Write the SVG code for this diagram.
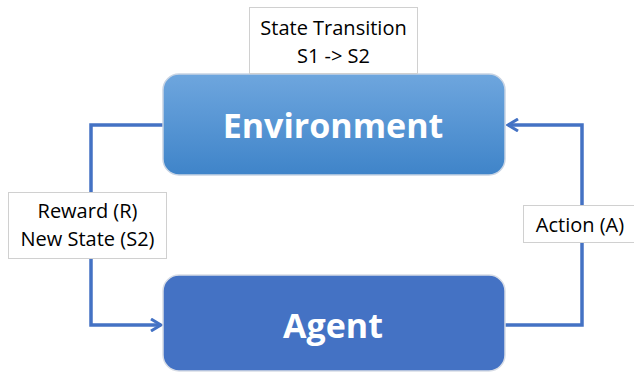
<svg xmlns="http://www.w3.org/2000/svg" width="634" height="373" viewBox="0 0 634 373">
<style>
.lbl{fill:#fff;stroke:#d0d0d0;stroke-width:1}
.lt{font-family:"Open Sans","Liberation Sans",sans-serif;font-size:20px;fill:#000;text-anchor:middle}
.nt{font-family:"Open Sans","Liberation Sans",sans-serif;font-weight:bold;fill:#fff;text-anchor:middle}
.conn{fill:none;stroke:#4472C4;stroke-width:3.5}
</style>
<defs>
<linearGradient id="envg" x1="0" y1="0" x2="0" y2="1">
<stop offset="0" stop-color="#6EA6DE"/>
<stop offset="1" stop-color="#3F84C9"/>
</linearGradient>
<marker id="arr" viewBox="0 0 14 14" refX="12" refY="7" markerWidth="14" markerHeight="14" markerUnits="userSpaceOnUse" orient="auto">
<path d="M2,1 L12,7 L2,13" fill="none" stroke="#4472C4" stroke-width="3"/>
</marker>
</defs>
<g id="connectors">
<path class="conn" d="M163,125 H91 V325 H161" marker-end="url(#arr)"/>
<path class="conn" d="M505,325 H582 V125 H508" marker-end="url(#arr)"/>
</g>
<g id="environment">
<rect x="163" y="74" width="342" height="101" rx="16" fill="url(#envg)" stroke="#c8d4e4" stroke-width="1.5"/>
<text class="nt" x="333" y="138" font-size="34">Environment</text>
</g>
<g id="agent">
<rect x="163" y="275" width="342" height="96" rx="16" fill="#4472C4" stroke="#d8dde6" stroke-width="1.5"/>
<text class="nt" x="333" y="338" font-size="34">Agent</text>
</g>
<g id="state-transition">
<rect class="lbl" x="249.5" y="7.5" width="168" height="66"/>
<text class="lt" x="333.5" y="35">State Transition</text>
<text class="lt" x="333.5" y="63">S1 -&gt; S2</text>
</g>
<g id="reward-label">
<rect class="lbl" x="8.5" y="192.5" width="158" height="66"/>
<text class="lt" x="87.5" y="218">Reward (R)</text>
<text class="lt" x="87.5" y="246">New State (S2)</text>
</g>
<g id="action-label">
<rect class="lbl" x="523.5" y="205.5" width="115" height="37"/>
<text class="lt" x="580" y="232">Action (A)</text>
</g>
</svg>
